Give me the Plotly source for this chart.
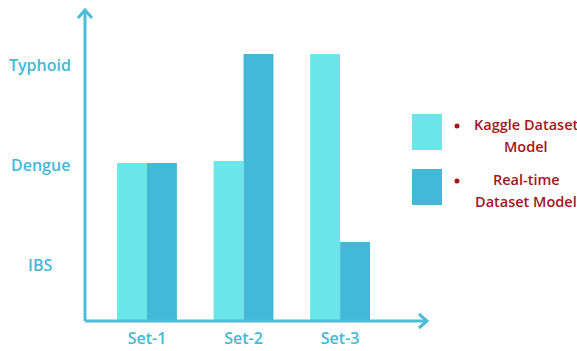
import plotly.graph_objects as go

sets = ["Set-1", "Set-2", "Set-3"]
series_names = ["Kaggle Dataset<br>Model", "Real-time<br>Dataset Model"]
kaggle = [2.02, 2.04, 3.11]
realtime = [2.02, 3.11, 1.23]
disease_vals = [1, 2, 3]
disease_labels = ["IBS", "Dengue", "Typhoid"]

LIGHT = "#6CE5E8"
DARK = "#43B9D7"
AXIS = "#4BBCDA"
TXT = "#45B8D8"
RED = "#A3161B"
FONT = "Open Sans"

W, H = 577, 351
L, R, T, B = 85, 150, 10, 30
pw = W - L - R
ph = H - T - B


def px_x(x):
    return (x - L) / pw


def px_y(y):
    return 1 - (y - T) / ph


fig = go.Figure()
fig.add_trace(go.Bar(x=sets, y=kaggle, name=series_names[0], marker=dict(color=LIGHT, line=dict(width=0))))
fig.add_trace(go.Bar(x=sets, y=realtime, name=series_names[1], marker=dict(color=DARK, line=dict(width=0))))

annotations = []
# y category labels, centered
for v, lab in zip(disease_vals, disease_labels):
    annotations.append(dict(xref="paper", yref="y", x=px_x(40), y=v, text=lab,
                            showarrow=False, xanchor="center", yanchor="middle",
                            font=dict(family=FONT, size=16, color=TXT, weight=600)))

shapes = []
# axis lines
shapes.append(dict(type="line", xref="paper", yref="paper", x0=0, y0=0, x1=0, y1=1,
                   line=dict(color=AXIS, width=3)))
shapes.append(dict(type="line", xref="paper", yref="paper", x0=0, y0=0, x1=1, y1=0,
                   line=dict(color=AXIS, width=3)))
# arrowheads (pixel-sized chevrons)
shapes.append(dict(type="path", xref="paper", yref="paper", xsizemode="pixel", ysizemode="pixel",
                   xanchor=0, yanchor=1, path="M -7,-8 L 0,0 L 7,-8",
                   line=dict(color=AXIS, width=3)))
shapes.append(dict(type="path", xref="paper", yref="paper", xsizemode="pixel", ysizemode="pixel",
                   xanchor=1, yanchor=0, path="M -8,7 L 0,0 L -8,-7",
                   line=dict(color=AXIS, width=3)))

# legend
leg_colors = [LIGHT, DARK]
box_tops = [114, 169]
for i, (c, top) in enumerate(zip(leg_colors, box_tops)):
    shapes.append(dict(type="rect", xref="paper", yref="paper",
                       x0=px_x(412), x1=px_x(442),
                       y0=px_y(top + 36), y1=px_y(top),
                       fillcolor=c, line=dict(width=0)))
    shapes.append(dict(type="circle", xref="paper", yref="paper", xsizemode="pixel", ysizemode="pixel",
                       xanchor=px_x(457), yanchor=px_y(top + 12),
                       x0=-2.5, x1=2.5, y0=-2.5, y1=2.5,
                       fillcolor=RED, line=dict(width=0)))
    lines = series_names[i].split("<br>")
    for j, ln in enumerate(lines):
        annotations.append(dict(xref="paper", yref="paper", x=px_x(526), y=px_y(top + 10 + 22 * j),
                                text=ln, showarrow=False, xanchor="center", yanchor="middle",
                                font=dict(family=FONT, size=14.5, color=RED, weight=600)))

fig.update_layout(
    width=W, height=H,
    margin=dict(l=L, r=R, t=T, b=B),
    paper_bgcolor="white", plot_bgcolor="white",
    barmode="group", bargap=0.38, bargroupgap=0,
    showlegend=False,
    xaxis=dict(range=[-0.642, 2.90], showline=False, showgrid=False, zeroline=False,
               ticks="", ticklabelstandoff=6, automargin=False,
               tickfont=dict(family=FONT, size=16, color=TXT, weight=600)),
    yaxis=dict(range=[0.44, 3.55], showline=False, showgrid=False, zeroline=False,
               showticklabels=False, ticks="", automargin=False),
    annotations=annotations,
    shapes=shapes,
)

fig.write_html("out.html")
